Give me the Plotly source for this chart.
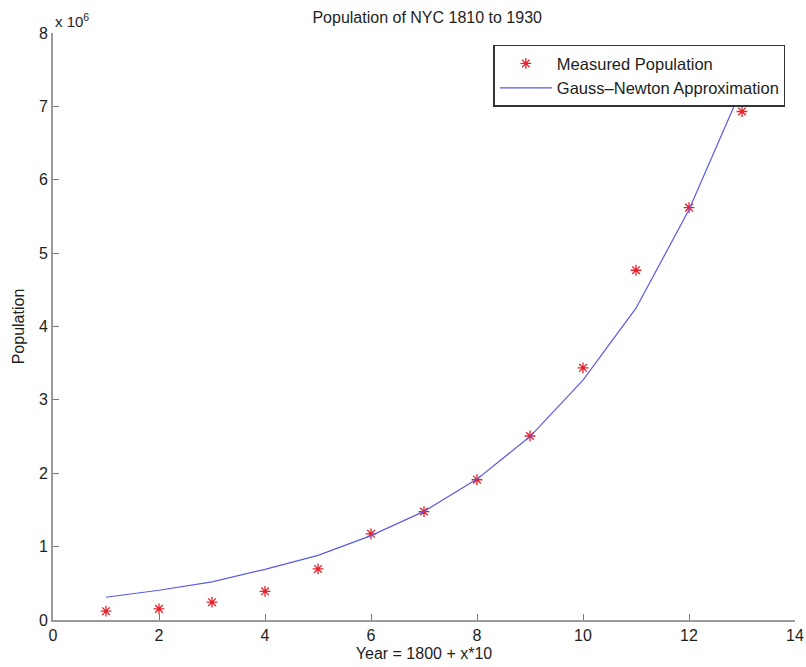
import plotly.graph_objects as go

# Decades after 1800 (x = 1 -> 1810, ..., x = 13 -> 1930)
decade_index = [1, 2, 3, 4, 5, 6, 7, 8, 9, 10, 11, 12, 13]

# Census population of New York City
measured_population = [119734, 152056, 242278, 391114, 696115, 1174779, 1478103,
                       1911698, 2507414, 3437202, 4766883, 5620048, 6930446]

# Fitted exponential model evaluated at each decade
gauss_newton_fit = [310000, 405000, 520000, 690000, 880000, 1150000, 1480000,
                    1920000, 2500000, 3270000, 4250000, 5590000, 7250000]

x_ticks = [0, 2, 4, 6, 8, 10, 12, 14]
y_ticks = [0, 1e6, 2e6, 3e6, 4e6, 5e6, 6e6, 7e6, 8e6]
y_tick_text = ["0", "1", "2", "3", "4", "5", "6", "7", "8"]

FONT = "Liberation Sans, Arial, Helvetica, sans-serif"
TEXT = "#1e1e1e"

fig = go.Figure()

fig.add_trace(go.Scatter(
    x=decade_index, y=measured_population, mode="markers",
    name="Measured Population",
    marker=dict(symbol="asterisk-open", size=9, color="#e8202a",
                line=dict(color="#e8202a", width=1.3)),
))

fig.add_trace(go.Scatter(
    x=decade_index, y=gauss_newton_fit, mode="lines",
    name="Gauss\u2013Newton Approximation",
    line=dict(color="#5a5ae8", width=1.2),
))

axis_common = dict(
    showgrid=False, zeroline=False, showline=True, linecolor="#9a9a9a",
    linewidth=2, ticks="inside", ticklen=6, tickcolor="#7a7a7a",
    tickfont=dict(family=FONT, size=16, color=TEXT),
    mirror=False, automargin=False,
)

fig.update_xaxes(range=[0, 14], tickvals=x_ticks, **axis_common,
                 title=dict(text="Year = 1800 + x*10", standoff=5,
                            font=dict(family=FONT, size=16, color=TEXT)))
fig.update_yaxes(range=[0, 8e6], tickvals=y_ticks, ticktext=y_tick_text,
                 **axis_common,
                 title=dict(text="Population", standoff=10,
                            font=dict(family=FONT, size=16, color=TEXT)))

fig.update_layout(
    width=806, height=667,
    margin=dict(l=53, r=11, t=33, b=47),
    plot_bgcolor="white", paper_bgcolor="white",
    title=dict(text="Population of NYC 1810 to 1930", x=0.53, xanchor="center",
               y=1 - 17 / 667, yanchor="middle",
               font=dict(family=FONT, size=16, color=TEXT)),
    legend=dict(x=0.987, y=0.98, xanchor="right", yanchor="top",
                bgcolor="white", bordercolor="#333", borderwidth=1.5,
                font=dict(family=FONT, size=16.5, color=TEXT),
                tracegroupgap=0, itemwidth=52),
    showlegend=True,
)

fig.add_annotation(
    text="x 10<sup>6</sup>", xref="paper", yref="paper", x=0.0, y=1.0,
    xanchor="left", yanchor="bottom", showarrow=False, yshift=1,
    font=dict(family=FONT, size=15, color=TEXT),
)

fig.write_html("out.html")
